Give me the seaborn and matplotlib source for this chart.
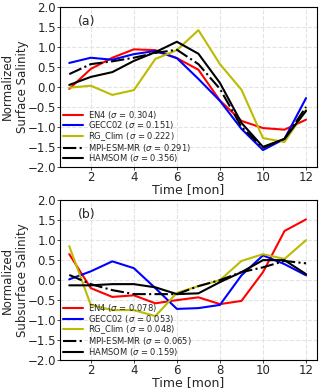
import numpy as np
import pandas as pd
import seaborn as sns
import matplotlib.pyplot as plt

months = list(range(1, 13))

names = ["EN4", "GECC02", "RG_Clim", "MPI-ESM-MR", "HAMSOM"]
sigma_surf = [0.304, 0.151, 0.222, 0.291, 0.356]
sigma_sub = [0.078, 0.053, 0.048, 0.065, 0.159]

surf_en4 = [-0.05, 0.45, 0.73, 0.94, 0.92, 0.72, 0.43, -0.34, -0.85, -1.03, -1.07, -0.82]
surf_gecc = [0.60, 0.73, 0.68, 0.82, 0.90, 0.72, 0.20, -0.35, -1.05, -1.58, -1.30, -0.28]
surf_rg = [-0.02, 0.03, -0.20, -0.08, 0.70, 0.92, 1.42, 0.57, -0.07, -1.28, -1.38, -0.57]
surf_mpi = [0.32, 0.57, 0.64, 0.73, 0.85, 0.93, 0.57, -0.05, -1.00, -1.52, -1.30, -0.50]
surf_ham = [0.05, 0.25, 0.37, 0.65, 0.87, 1.13, 0.83, 0.10, -0.90, -1.50, -1.30, -0.60]

sub_en4 = [0.65, -0.20, -0.42, -0.38, -0.58, -0.50, -0.43, -0.60, -0.52, 0.20, 1.23, 1.52]
sub_gecc = [0.02, 0.22, 0.47, 0.30, -0.20, -0.72, -0.70, -0.62, 0.12, 0.62, 0.40, 0.12]
sub_rg = [0.85, -0.62, -0.75, -0.75, -0.90, -0.32, -0.15, 0.00, 0.48, 0.65, 0.53, 1.00]
sub_mpi = [0.13, -0.10, -0.25, -0.35, -0.35, -0.35, -0.15, 0.00, 0.20, 0.32, 0.48, 0.42]
sub_ham = [-0.13, -0.13, -0.10, -0.10, -0.18, -0.35, -0.33, -0.05, 0.20, 0.50, 0.50, 0.15]

colors = ["red", "blue", "#bbbb00", "black", "black"]
styles = ["-", "-", "-", "-.", "-"]

sns.set_style("whitegrid", {"axes.edgecolor": "black", "grid.linestyle": "--",
                            "grid.color": "#e3e3e3", "xtick.bottom": True, "ytick.left": True})
plt.rcParams["font.family"] = ["DejaVu Sans"]

fig = plt.figure(figsize=(3.2, 3.88), dpi=100)
ax1 = fig.add_axes([0.1875, 0.570, 0.8025, 0.412])
ax2 = fig.add_axes([0.1875, 0.072, 0.8025, 0.412])

panels = [
    (ax1, [surf_en4, surf_gecc, surf_rg, surf_mpi, surf_ham], sigma_surf, "(a)", "Normalized\nSurface Salinity"),
    (ax2, [sub_en4, sub_gecc, sub_rg, sub_mpi, sub_ham], sigma_sub, "(b)", "Normalized\nSubsurface Salinity"),
]

yt = np.arange(-2.0, 2.01, 0.5)
for ax, series, sig, tag, ylab in panels:
    for name, vals, s, c, ls in zip(names, series, sig, colors, styles):
        df = pd.DataFrame({"month": months, "val": vals})
        sns.lineplot(data=df, x="month", y="val", ax=ax, color=c, linestyle=ls,
                     linewidth=1.5, label=f"{name} ($\\sigma$ = {s:.3f})")
    ax.set_xlim(0.57, 12.5)
    ax.set_ylim(-2.0, 2.0)
    ax.set_xticks([2, 4, 6, 8, 10, 12])
    ax.set_yticks(yt)
    ax.set_yticklabels([f"{v:.1f}".replace("-", "\u2212") for v in yt])
    ax.tick_params(labelsize=8.5, length=2, width=0.6, pad=1)
    ax.set_xlabel("Time [mon]", fontsize=9, labelpad=-1)
    ax.set_ylabel(ylab, fontsize=8.5)
    ax.yaxis.set_label_coords(-0.12, 0.5)
    ax.text(0.07, 0.89, tag, transform=ax.transAxes, fontsize=9)
    for sp in ax.spines.values():
        sp.set_linewidth(0.8)
    ax.legend(loc="lower left", fontsize=6, frameon=False, handlelength=2.4,
              labelspacing=-0.15, borderaxespad=0.1, borderpad=0.2, handletextpad=0.7)

fig.savefig("out.png", dpi=100)
